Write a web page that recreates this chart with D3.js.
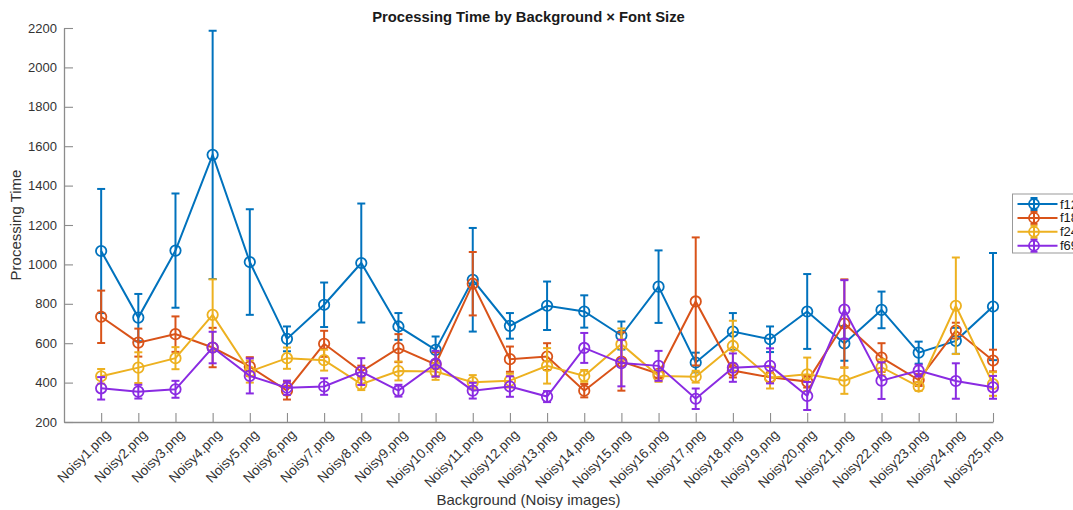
<!DOCTYPE html>
<html>
<head>
<meta charset="utf-8">
<script src="https://cdn.jsdelivr.net/npm/d3@7"></script>
<style>
  html, body { margin: 0; padding: 0; background: #fff; overflow: hidden; }
  svg { display: block; font-family: "Liberation Sans", Arial, Helvetica, sans-serif; }
</style>
</head>
<body>
<svg id="chart" width="1073" height="510"></svg>
<script>
// Background images on the x axis
const backgrounds = d3.range(1, 26).map(i => `Noisy${i}.png`);

// Series names (font sizes)
const seriesNames = ["f12", "f18", "f24", "f69"];

// Mean processing time per background
const f12Mean = [1068, 730, 1070, 1556, 1012, 622, 795, 1007, 685, 566, 922, 688, 790, 761, 639, 887, 502, 659, 620, 761, 599, 769, 552, 612, 786];
const f18Mean = [734, 603, 646, 578, 481, 359, 597, 456, 575, 492, 902, 519, 532, 359, 507, 445, 812, 461, 427, 405, 700, 527, 413, 664, 512];
const f24Mean = [432, 476, 524, 744, 456, 524, 514, 392, 459, 456, 402, 410, 485, 434, 595, 434, 430, 586, 425, 442, 410, 478, 380, 790, 393];
const f69Mean = [371, 354, 366, 578, 434, 374, 380, 456, 359, 496, 359, 380, 329, 576, 499, 485, 318, 476, 485, 332, 771, 410, 461, 408, 376];

// Error (half-length of the error bar)
const f12Err = [315, 120, 290, 630, 268, 63, 113, 302, 68, 68, 263, 65, 123, 82, 71, 184, 50, 94, 65, 190, 88, 93, 56, 66, 272];
const f18Err = [133, 71, 90, 100, 48, 45, 66, 30, 71, 62, 161, 64, 68, 34, 148, 20, 325, 35, 25, 30, 224, 73, 30, 40, 55];
const f24Err = [37, 78, 56, 180, 56, 54, 53, 30, 48, 42, 36, 35, 90, 30, 80, 30, 30, 128, 55, 85, 67, 40, 22, 245, 60];
const f69Err = [57, 35, 43, 80, 89, 36, 42, 68, 30, 65, 40, 52, 28, 76, 118, 76, 52, 72, 89, 71, 149, 93, 30, 90, 58];

// Y axis ticks
const yTicks = [200, 400, 600, 800, 1000, 1200, 1400, 1600, 1800, 2000, 2200];

const colors = ["#0072BD", "#D95319", "#EDB120", "#8A2BE2"];

const series = [
  { name: seriesNames[0], mean: f12Mean, err: f12Err, color: colors[0] },
  { name: seriesNames[1], mean: f18Mean, err: f18Err, color: colors[1] },
  { name: seriesNames[2], mean: f24Mean, err: f24Err, color: colors[2] },
  { name: seriesNames[3], mean: f69Mean, err: f69Err, color: colors[3] }
];

const svg = d3.select("#chart");
const plotLeft = 64, plotRight = 993, plotTop = 28, plotBottom = 422;

const x = d3.scaleLinear().domain([0, backgrounds.length]).range([plotLeft, plotRight]);
const y = d3.scaleLinear().domain([200, 2200]).range([plotBottom, plotTop]);

const axisColor = "#8c8c8c";
const textColor = "#333333";

// Y axis
const yAxis = svg.append("g")
  .attr("transform", `translate(${plotLeft},0)`)
  .call(d3.axisLeft(y).tickValues(yTicks).tickFormat(d3.format("d"))
    .tickSizeInner(-9).tickSizeOuter(0).tickPadding(7));
yAxis.select(".domain").attr("stroke", axisColor).attr("stroke-width", 1.3);
yAxis.selectAll(".tick line").attr("stroke", axisColor).attr("stroke-width", 1.1);
yAxis.selectAll(".tick text").attr("fill", textColor).attr("font-size", 13)
  .attr("font-family", "Liberation Sans, Arial, sans-serif");

// X axis
const xAxis = svg.append("g")
  .attr("transform", `translate(0,${plotBottom})`)
  .call(d3.axisBottom(x).tickValues(d3.range(1, backgrounds.length + 1))
    .tickFormat(d => backgrounds[d - 1]).tickSizeInner(-9).tickSizeOuter(0));
xAxis.select(".domain").attr("stroke", axisColor).attr("stroke-width", 1.3);
xAxis.selectAll(".tick line").attr("stroke", axisColor).attr("stroke-width", 1.1);
xAxis.selectAll(".tick text")
  .attr("fill", textColor).attr("font-size", 13.6)
  .attr("font-family", "Liberation Sans, Arial, sans-serif")
  .attr("text-anchor", "end")
  .attr("transform", "translate(6,10) rotate(-45)")
  .attr("dy", "0.35em")
  .attr("y", 0).attr("x", 0);

// Series: line, error bars, markers
const capHalf = 4;
series.forEach(s => {
  const g = svg.append("g");
  const pts = s.mean.map((m, i) => ({ i: i + 1, m, e: s.err[i] }));

  g.append("path")
    .datum(pts)
    .attr("fill", "none")
    .attr("stroke", s.color)
    .attr("stroke-width", 2)
    .attr("d", d3.line().x(d => x(d.i)).y(d => y(d.m)));

  const eb = g.selectAll(".eb").data(pts).join("g")
    .attr("stroke", s.color).attr("stroke-width", 2).attr("fill", "none");
  eb.append("line")
    .attr("x1", d => x(d.i)).attr("x2", d => x(d.i))
    .attr("y1", d => y(d.m - d.e)).attr("y2", d => y(d.m + d.e));
  eb.append("line")
    .attr("x1", d => x(d.i) - capHalf).attr("x2", d => x(d.i) + capHalf)
    .attr("y1", d => y(d.m + d.e)).attr("y2", d => y(d.m + d.e));
  eb.append("line")
    .attr("x1", d => x(d.i) - capHalf).attr("x2", d => x(d.i) + capHalf)
    .attr("y1", d => y(d.m - d.e)).attr("y2", d => y(d.m - d.e));

  g.selectAll("circle").data(pts).join("circle")
    .attr("cx", d => x(d.i)).attr("cy", d => y(d.m))
    .attr("r", 5.2)
    .attr("fill", "none")
    .attr("stroke", s.color)
    .attr("stroke-width", 1.8);
});

// Title
svg.append("text")
  .attr("x", (plotLeft + plotRight) / 2).attr("y", 22)
  .attr("text-anchor", "middle")
  .attr("font-size", 14.8).attr("font-weight", "bold")
  .attr("fill", "#1a1a1a")
  .text("Processing Time by Background × Font Size");

// Axis labels
svg.append("text")
  .attr("transform", `translate(21,${(plotTop + plotBottom) / 2}) rotate(-90)`)
  .attr("text-anchor", "middle")
  .attr("font-size", 15).attr("fill", textColor)
  .text("Processing Time");

svg.append("text")
  .attr("x", (plotLeft + plotRight) / 2).attr("y", 505)
  .attr("text-anchor", "middle")
  .attr("font-size", 15).attr("fill", textColor)
  .text("Background (Noisy images)");

// Legend (partly past the right edge of the figure)
const lg = svg.append("g").attr("transform", "translate(1012.5,194)");
lg.append("rect")
  .attr("x", 0).attr("y", 0).attr("width", 80).attr("height", 59)
  .attr("fill", "#fff").attr("stroke", "#999").attr("stroke-width", 1);
series.forEach((s, k) => {
  const yy = 10 + k * 13.9;
  const item = lg.append("g").attr("stroke", s.color).attr("stroke-width", 2).attr("fill", "none");
  item.append("line").attr("x1", 5).attr("x2", 45).attr("y1", yy).attr("y2", yy);
  item.append("line").attr("x1", 21.5).attr("x2", 21.5).attr("y1", yy - 6).attr("y2", yy + 6);
  item.append("line").attr("x1", 18).attr("x2", 25).attr("y1", yy - 6).attr("y2", yy - 6);
  item.append("line").attr("x1", 18).attr("x2", 25).attr("y1", yy + 6).attr("y2", yy + 6);
  item.append("circle").attr("cx", 21.5).attr("cy", yy).attr("r", 5).attr("stroke-width", 1.8);
  lg.append("text")
    .attr("x", 47.5).attr("y", yy).attr("dy", "0.35em")
    .attr("font-size", 13).attr("fill", "#1a1a1a")
    .text(s.name);
});
</script>
</body>
</html>
